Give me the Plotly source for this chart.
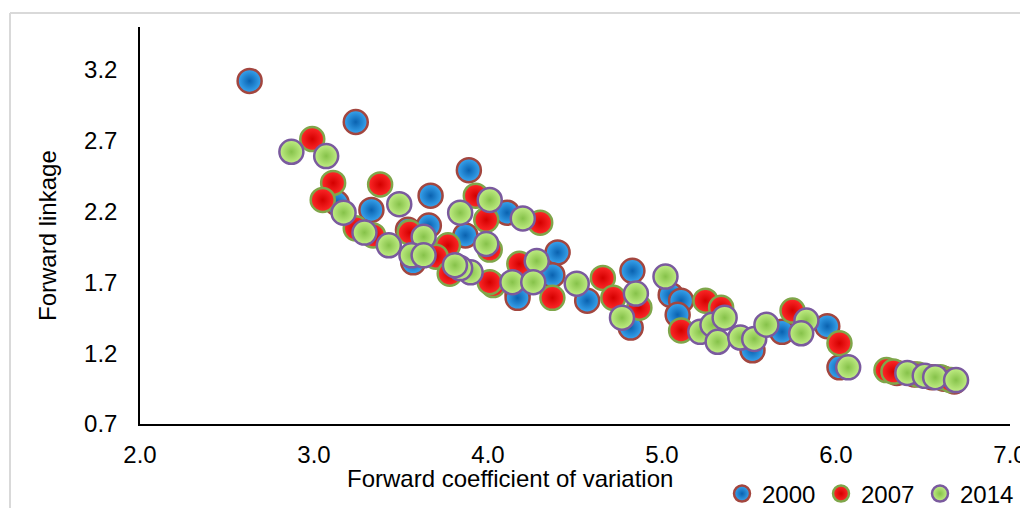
import plotly.graph_objects as go

# ---- data ----
x2000 = [2.63, 3.24, 3.89, 3.67, 3.33, 4.11, 3.87, 4.40, 4.37, 4.57, 4.83, 4.17, 4.17, 4.82,
         5.05, 5.11, 5.09, 5.69, 5.52, 5.95, 6.02, 3.13, 3.54, 3.66, 3.57,
         6.35, 6.45, 6.55, 6.62, 6.68]
y2000 = [3.12, 2.83, 2.49, 2.31, 2.21, 2.19, 2.03, 1.91, 1.75, 1.57, 1.78, 1.62, 1.59, 1.38,
         1.61, 1.57, 1.47, 1.35, 1.22, 1.39, 1.10, 2.26, 2.07, 2.10, 1.84,
         1.06, 1.05, 1.03, 1.02, 1.00]

x2007 = [2.99, 3.11, 3.38, 3.05, 3.93, 3.99, 4.30, 3.77, 4.01, 4.03, 4.37, 4.66, 4.72, 4.87,
         5.11, 5.25, 5.34, 5.75, 6.02, 3.34, 3.24, 3.70, 3.78, 4.01, 3.55, 4.18,
         6.29, 6.33, 6.47, 6.60, 6.66]
y2007 = [2.71, 2.40, 2.39, 2.28, 2.31, 2.14, 2.12, 1.96, 1.93, 1.68, 1.59, 1.73, 1.59, 1.52,
         1.36, 1.57, 1.52, 1.50, 1.27, 2.03, 2.08, 1.88, 1.76, 1.70, 2.05, 1.83,
         1.08, 1.07, 1.05, 1.03, 1.01]

x2014 = [2.87, 3.07, 3.17, 3.49, 3.29, 3.43, 3.84, 4.01, 3.99, 3.63, 4.20, 4.28, 3.90, 4.14,
         4.26, 4.51, 4.77, 4.85, 5.02, 5.22, 5.29, 5.36, 5.32, 5.45, 5.53, 5.60, 5.83, 5.80,
         6.07, 3.56, 3.63, 3.84, 3.81, 6.41, 6.51, 6.57, 6.69]
y2014 = [2.62, 2.59, 2.19, 2.25, 2.05, 1.96, 2.19, 2.28, 1.97, 2.02, 2.15, 1.85, 1.77, 1.70,
         1.70, 1.69, 1.45, 1.62, 1.74, 1.35, 1.40, 1.45, 1.28, 1.31, 1.30, 1.40, 1.43, 1.34,
         1.10, 1.89, 1.89, 1.80, 1.82, 1.06, 1.04, 1.03, 1.01]

x_ticks = [2.0, 3.0, 4.0, 5.0, 6.0, 7.0]
y_ticks = [0.7, 1.2, 1.7, 2.2, 2.7, 3.2]

series = [
    ("2000", x2000, y2000, "#3aa6f0", "#0a62b0", "#a3463f"),
    ("2007", x2007, y2007, "#ff2a2a", "#d40000", "#7fa64a"),
    ("2014", x2014, y2014, "#c2ee86", "#86c24a", "#7a5a9e"),
]

FONT = "Liberation Sans, Arial, sans-serif"
FS = 24

# the page body has an 8px margin, so figure coords = page coords - 8
OFF = 8
W, H = 1028 - OFF, 508 - OFF
L, R, T, B = 140 - OFF, 1010 - OFF, 27 - OFF, 424 - OFF   # plot area (figure px)
PW, PH = R - L, B - T


def px(xp):          # page pixel -> paper x
    return (xp - OFF - L) / PW


def py(yp):          # page pixel -> paper y
    return (B - (yp - OFF)) / PH


fig = go.Figure()
for name, xs, ys, c_in, c_out, c_line in series:
    fig.add_trace(go.Scatter(
        x=xs, y=ys, mode="markers", name=name,
        marker=dict(size=24, color=c_in,
                    gradient=dict(type="radial", color=c_out),
                    line=dict(color=c_line, width=2.5)),
    ))

fig.update_layout(
    width=W, height=H,
    margin=dict(l=L, r=W - R, t=T, b=H - B, autoexpand=False),
    paper_bgcolor="white", plot_bgcolor="white",
    font=dict(family=FONT, size=FS, color="#000000"),
    showlegend=True,
    legend=dict(orientation="h",
                xref="container", x=(722 - OFF) / W, xanchor="left",
                yref="container", y=(H - (494 - OFF)) / H, yanchor="middle",
                font=dict(size=FS, color="#000000"), bgcolor="rgba(0,0,0,0)",
                entrywidth=54, entrywidthmode="pixels", itemclick=False,
                borderwidth=0),
    xaxis=dict(range=[2.0, 7.0], tickvals=x_ticks,
               ticktext=[f"{v:.1f}" for v in x_ticks],
               showgrid=False, zeroline=False, showline=True,
               linecolor="#000000", linewidth=1.5,
               ticks="", ticklabelstandoff=8),
    yaxis=dict(range=[0.7, 3.5], tickvals=y_ticks,
               ticktext=[f"{v:.1f}" for v in y_ticks],
               showgrid=False, zeroline=False, showline=True,
               linecolor="#000000", linewidth=1.5,
               ticks="", ticklabelstandoff=16),
    annotations=[
        dict(text="Forward coefficient of variation", xref="paper", yref="paper",
             x=px(510), y=py(478), xanchor="center", yanchor="middle",
             showarrow=False, font=dict(size=FS)),
        dict(text="Forward linkage", xref="paper", yref="paper",
             x=px(47), y=py(236), xanchor="center", yanchor="middle",
             textangle=-90, showarrow=False, font=dict(size=FS)),
    ],
    shapes=[
        dict(type="line", xref="paper", yref="paper",
             x0=px(10), x1=px(1040), y0=py(13), y1=py(13),
             line=dict(color="#d9d9d9", width=2)),
        dict(type="line", xref="paper", yref="paper",
             x0=px(10), x1=px(10), y0=py(13), y1=py(520),
             line=dict(color="#d9d9d9", width=2)),
    ],
)

fig.write_html("out.html")
